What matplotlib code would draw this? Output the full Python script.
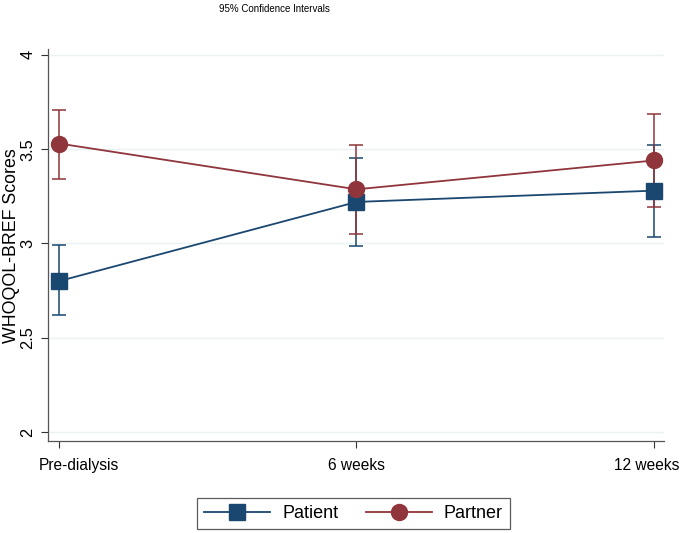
import matplotlib.pyplot as plt
import matplotlib.transforms as mtransforms
import numpy as np

plt.rcParams['font.family'] = ['Liberation Sans', 'DejaVu Sans']

timepoints = ['Pre-dialysis', '6 weeks', '12 weeks']
patient_mean = [2.80, 3.22, 3.28]
patient_lo = [2.62, 2.985, 3.035]
patient_hi = [2.99, 3.455, 3.52]
partner_mean = [3.53, 3.287, 3.44]
partner_lo = [3.34, 3.05, 3.195]
partner_hi = [3.71, 3.52, 3.685]

navy = '#1a476f'
maroon = '#90353b'

fig = plt.figure(figsize=(6.85, 5.33), dpi=100)
ax = fig.add_axes([0.070, 0.1726, 0.900, 0.735])

x = np.arange(len(timepoints))


def draw_series(mean, lo, hi, color, marker, label, ms):
    mean = np.array(mean)
    err = [mean - np.array(lo), np.array(hi) - mean]
    ax.errorbar(x, mean, yerr=err, fmt='none', ecolor=color, elinewidth=1.1,
                capsize=5, capthick=1.1, zorder=2)
    ax.plot(x, mean, color=color, lw=1.3, marker=marker, ms=ms,
            markerfacecolor=color, markeredgecolor=color, label=label, zorder=3)


draw_series(patient_mean, patient_lo, patient_hi, navy, 's', 'Patient', 11)
draw_series(partner_mean, partner_lo, partner_hi, maroon, 'o', 'Partner', 11.5)

ax.set_xlim(-0.037, 2.035)
ax.set_ylim(1.952, 4.03)
ax.set_yticks([2, 2.5, 3, 3.5, 4])
ax.set_yticklabels(['2', '2.5', '3', '3.5', '4'], rotation=90, va='center')
ax.set_xticks(x)
ax.set_xticklabels(timepoints)
ax.tick_params(length=5, color='#333333', width=0.8)
ax.tick_params(axis='x', pad=7, labelsize=11.2)
ax.tick_params(axis='y', pad=4, labelsize=11.8)
ax.grid(axis='y', color='#eaf2f3', lw=1)
ax.set_axisbelow(True)
for s in ['top', 'right']:
    ax.spines[s].set_visible(False)
for s in ['left', 'bottom']:
    ax.spines[s].set_color('#555555')
    ax.spines[s].set_linewidth(0.9)

# Stata nudges the outer labels inward so they stay inside the plot
shifts = [0.20, 0.0, -0.07]
for lab, dx in zip(ax.get_xticklabels(), shifts):
    lab.set_transform(lab.get_transform() +
                      mtransforms.ScaledTranslation(dx, 0, fig.dpi_scale_trans))

ax.set_ylabel('WHOQOL-BREF Scores', fontsize=12.8, labelpad=0.5)
fig.text(0.40, 0.993, '95% Confidence Intervals', ha='center', va='top',
         fontsize=7)

leg = fig.legend(loc='center', bbox_to_anchor=(0.516, 0.0366), ncol=2,
                 fontsize=13, frameon=True, fancybox=False, edgecolor='#333333',
                 handlelength=3.66, columnspacing=1.5, borderpad=0.4,
                 handletextpad=0.67)
leg.get_frame().set_linewidth(0.9)

fig.savefig('out.png', dpi=100)
